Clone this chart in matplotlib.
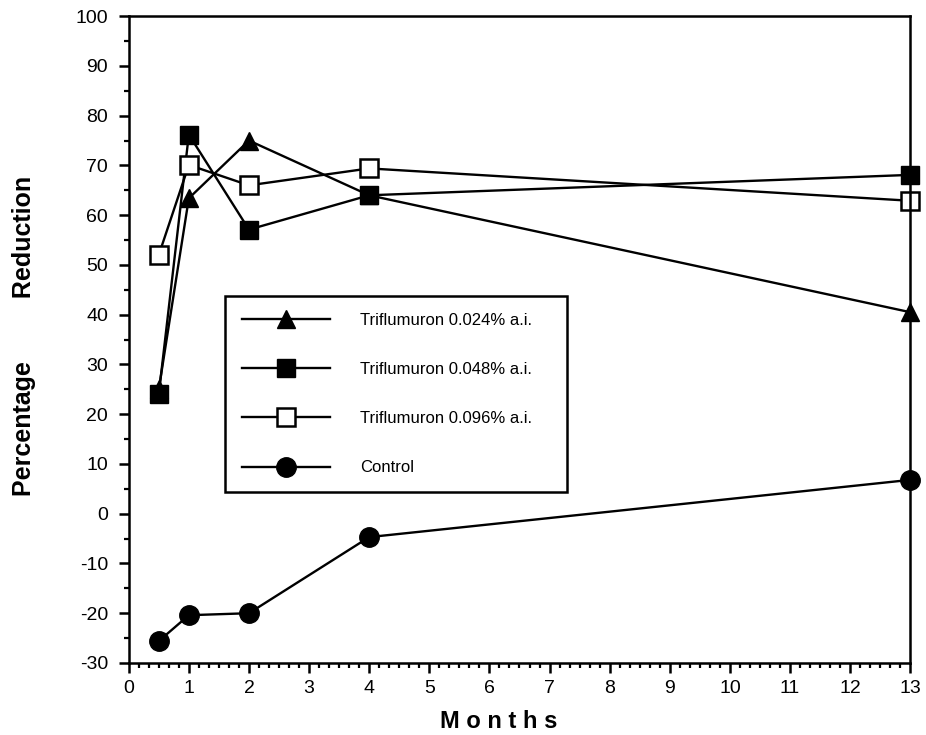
import numpy as np
import matplotlib.pyplot as plt
from matplotlib.ticker import MultipleLocator

plt.rcParams['font.family'] = ['Liberation Sans', 'DejaVu Sans']
plt.rcParams['axes.unicode_minus'] = False

months = [0.5, 1, 2, 4, 13]
tri_024 = [25, 63.4, 75, 64, 40.5]
tri_048 = [24, 76.2, 57.1, 64, 68.1]
tri_096 = [52, 70.1, 66, 69.4, 62.9]
control = [-25.6, -20.4, -20, -4.7, 6.8]

labels = ['Triflumuron 0.024% a.i.', 'Triflumuron 0.048% a.i.',
          'Triflumuron 0.096% a.i.', 'Control']

fig = plt.figure(figsize=(9.26, 7.35), dpi=100)
ax = fig.add_axes([0.139, 0.098, 0.844, 0.880])

style = dict(color='black', linewidth=1.7, clip_on=False)
ax.plot(months, tri_024, marker='^', markersize=13, markerfacecolor='black',
        markeredgecolor='black', label=labels[0], **style)
ax.plot(months, tri_048, marker='s', markersize=13, markerfacecolor='black',
        markeredgecolor='black', label=labels[1], **style)
ax.plot(months, tri_096, marker='s', markersize=13, markerfacecolor='white',
        markeredgecolor='black', markeredgewidth=1.8, label=labels[2], **style)
ax.plot(months, control, marker='o', markersize=14, markerfacecolor='black',
        markeredgecolor='black', label=labels[3], **style)

ax.set_xlim(0, 13)
ax.set_ylim(-30, 100)
ax.xaxis.set_major_locator(MultipleLocator(1))
ax.xaxis.set_minor_locator(MultipleLocator(1 / 6))
ax.yaxis.set_major_locator(MultipleLocator(10))
ax.yaxis.set_minor_locator(MultipleLocator(5))
ax.tick_params(which='major', direction='out', length=7, width=1.8, labelsize=14)
ax.tick_params(axis='y', which='major', pad=8)
ax.tick_params(axis='x', which='major', pad=5)
ax.tick_params(which='minor', direction='out', length=3.5, width=1.6)
for sp in ax.spines.values():
    sp.set_linewidth(1.8)

ax.set_xlabel('M o n t h s', fontsize=17, fontweight='bold')
ax.xaxis.set_label_coords(0.474, -0.072)
ax.set_ylabel('Percentage         Reduction', fontsize=18, fontweight='bold')
ax.yaxis.set_label_coords(-0.118, 0.505)

leg = ax.legend(loc='upper left', bbox_to_anchor=(0.123, 0.267, 0.438, 0.30),
                mode='expand', fancybox=False, edgecolor='black', framealpha=1,
                fontsize=12, handlelength=5.3, handletextpad=1.8,
                labelspacing=2.05, borderpad=1.0, borderaxespad=0)
leg.get_frame().set_linewidth(1.8)

fig.savefig('out.png', dpi=100, facecolor='white')
